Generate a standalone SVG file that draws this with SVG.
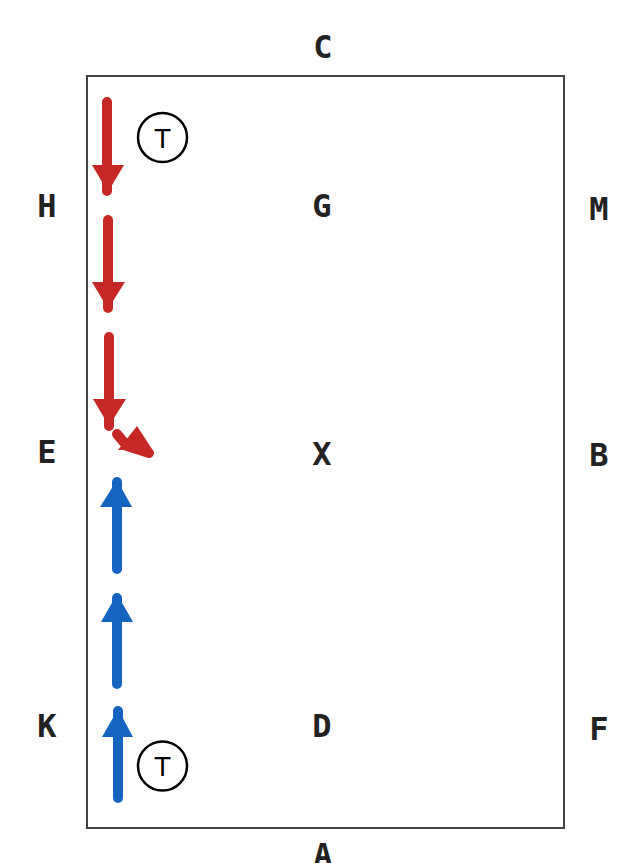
<svg xmlns="http://www.w3.org/2000/svg" width="627" height="863" viewBox="0 0 627 863">
<style>
.lbl{font-family:"DejaVu Sans Mono","Liberation Mono",monospace;font-weight:bold;font-size:32px;fill:#222;text-anchor:middle}
.red{stroke:#c62828;stroke-width:10;stroke-linecap:round;stroke-linejoin:round;fill:none}
.blue{stroke:#1565c0;stroke-width:10;stroke-linecap:round;fill:none}
.rh{fill:#c62828}
.bh{fill:#1565c0}
.tc{fill:#fff;stroke:#000;stroke-width:2.5}
.tt{font-family:"Liberation Sans",Arial,sans-serif;font-size:28px;fill:#000;text-anchor:middle}
</style>
<rect width="627" height="863" fill="#fff"/>
<rect id="arena" x="87" y="76" width="477" height="752" fill="none" stroke="#444" stroke-width="2"/>
<g id="labels">
<text class="lbl" x="323" y="58">C</text>
<text class="lbl" x="47" y="217">H</text>
<text class="lbl" x="322" y="217">G</text>
<text class="lbl" x="599" y="220">M</text>
<text class="lbl" x="47" y="463">E</text>
<text class="lbl" x="322" y="465">X</text>
<text class="lbl" x="599" y="466">B</text>
<text class="lbl" x="47" y="737">K</text>
<text class="lbl" x="322" y="737">D</text>
<text class="lbl" x="599" y="740">F</text>
<text class="lbl" x="323" y="866">A</text>
</g>
<g id="connectors">
<line class="red" x1="107" y1="102" x2="107" y2="191"/>
<polygon class="rh" points="92,165 124,165 108,192"/>
<line class="red" x1="108" y1="220" x2="108" y2="308"/>
<polygon class="rh" points="92,282 125,282 108,309"/>
<line class="red" x1="109" y1="337" x2="109" y2="426"/>
<polygon class="rh" points="93,399 126,399 109,426"/>
<polyline class="red" points="117,434 127,446 149,453"/>
<polygon class="rh" points="118,450 137,426 152,449"/>
<line class="blue" x1="117" y1="482" x2="117" y2="569"/>
<polygon class="bh" points="100,507 132,507 117,480"/>
<line class="blue" x1="117" y1="598" x2="117" y2="684"/>
<polygon class="bh" points="101,622 133,622 117,594"/>
<line class="blue" x1="118" y1="711" x2="118" y2="798"/>
<polygon class="bh" points="102,737 133,737 118,709"/>
</g>
<g id="t1">
<circle class="tc" cx="162.5" cy="137.5" r="24.5"/>
<text class="tt" x="162.5" y="147.5">T</text>
</g>
<g id="t2">
<circle class="tc" cx="162.5" cy="766" r="24.5"/>
<text class="tt" x="162.5" y="776">T</text>
</g>
</svg>
